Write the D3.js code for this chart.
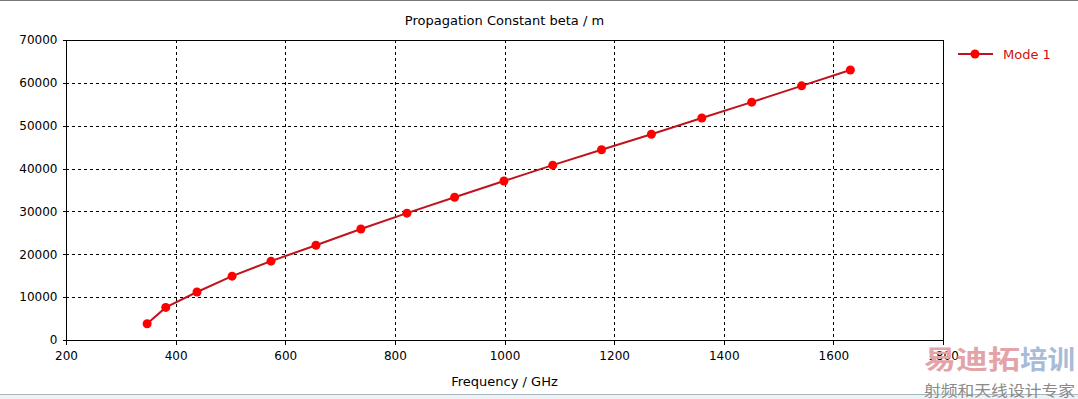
<!DOCTYPE html>
<html>
<head>
<meta charset="utf-8">
<script src="https://cdn.jsdelivr.net/npm/d3@7"></script>
<style>
  body { margin: 0; background: #fff; }
  text { font-family: "DejaVu Sans", sans-serif; font-size: 13px; }
</style>
</head>
<body>
<svg id="chart" width="1078" height="399"></svg>
<script>
// frequency in GHz, beta in 1/m
const freq = [348, 382, 439, 503, 574, 656, 738, 822, 909, 999, 1088, 1177, 1268, 1360, 1451, 1542, 1631];
const beta = [3800, 7600, 11200, 14900, 18400, 22100, 25900, 29600, 33300, 37100, 40800, 44400, 48000, 51800, 55500, 59300, 63000];
const xTicks = [200, 400, 600, 800, 1000, 1200, 1400, 1600, 1800];
const yTicks = [0, 10000, 20000, 30000, 40000, 50000, 60000, 70000];
const seriesName = "Mode 1";

const svg = d3.select("#chart");
const margin = { left: 66, right: 135, top: 40, bottom: 59 };
const W = 1078, H = 399;

const x = d3.scaleLinear().domain([200, 1800]).range([margin.left, W - margin.right]);
const y = d3.scaleLinear().domain([0, 70000]).range([H - margin.bottom, margin.top]);

// window frame: grey line on top, light strip at the bottom
svg.append("line")
    .attr("x1", 0).attr("x2", W).attr("y1", 0.5).attr("y2", 0.5)
    .attr("stroke", "#777").attr("stroke-width", 1);
svg.append("rect")
    .attr("x", -1).attr("y", 394.5).attr("width", W + 2).attr("height", 6)
    .attr("fill", "#eef2f5").attr("stroke", "#a8b8c2");

// grid
const grid = svg.append("g").attr("class", "grid")
    .attr("stroke", "#000").attr("stroke-dasharray", "3,3").attr("shape-rendering", "crispEdges");
grid.selectAll(".vx")
    .data(xTicks.slice(1, -1))
    .enter().append("line")
    .attr("x1", d => Math.round(x(d)) + 0.5).attr("x2", d => Math.round(x(d)) + 0.5)
    .attr("y1", y(70000)).attr("y2", y(0));
grid.selectAll(".hy")
    .data(yTicks.slice(1, -1))
    .enter().append("line")
    .attr("y1", d => Math.round(y(d)) + 0.5).attr("y2", d => Math.round(y(d)) + 0.5)
    .attr("x1", x(200)).attr("x2", x(1800));

// axes
const xAxis = svg.append("g")
    .attr("transform", `translate(0,${Math.round(y(0)) + 0.5})`)
    .call(d3.axisBottom(x).tickValues(xTicks).tickSize(4).tickPadding(7).tickFormat(d3.format("d")));
const yAxis = svg.append("g")
    .attr("transform", `translate(${Math.round(x(200)) + 0.5},0)`)
    .call(d3.axisLeft(y).tickValues(yTicks).tickSize(4).tickPadding(5).tickFormat(d3.format("d")));
[xAxis, yAxis].forEach(a => {
    a.select(".domain").remove();
    a.selectAll("line").attr("stroke", "#000").attr("shape-rendering", "crispEdges");
    a.selectAll("text").attr("fill", "#000").style("font-size", "12px")
        .style("font-family", "'DejaVu Sans', sans-serif");
});

// plot frame
svg.append("rect")
    .attr("x", Math.round(x(200)) + 0.5).attr("y", Math.round(y(70000)) + 0.5)
    .attr("width", Math.round(x(1800)) - Math.round(x(200)))
    .attr("height", Math.round(y(0)) - Math.round(y(70000)))
    .attr("fill", "none").attr("stroke", "#000").attr("shape-rendering", "crispEdges");

// titles
svg.append("text")
    .attr("x", (x(200) + x(1800)) / 2).attr("y", 25)
    .attr("text-anchor", "middle").text("Propagation Constant beta / m");
svg.append("text")
    .attr("x", (x(200) + x(1800)) / 2).attr("y", 386)
    .attr("text-anchor", "middle").text("Frequency / GHz");

// series
const pts = freq.map((f, i) => [f, beta[i]]);
svg.append("path")
    .datum(pts)
    .attr("fill", "none").attr("stroke", "#c0141c").attr("stroke-width", 2)
    .attr("d", d3.line().x(d => x(d[0])).y(d => y(d[1])));
svg.append("g").selectAll("circle")
    .data(pts)
    .enter().append("circle")
    .attr("cx", d => x(d[0])).attr("cy", d => y(d[1]))
    .attr("r", 4.5).attr("fill", "#f00");

// legend
const lg = svg.append("g").attr("transform", "translate(958,54)");
lg.append("line").attr("x1", 0).attr("x2", 35).attr("stroke", "#c0141c").attr("stroke-width", 2);
lg.append("circle").attr("cx", 17).attr("r", 4.5).attr("fill", "#f00");
lg.append("text").attr("x", 45).attr("y", 5).attr("fill", "#d01010").text(seriesName);

// watermark
const cjk = "'Noto Sans CJK SC'";
svg.append("text").attr("x", 924).attr("y", 369)
    .attr("textLength", 96).attr("lengthAdjust", "spacingAndGlyphs")
    .style("font-size", "26px").style("font-weight", "bold").style("font-family", cjk)
    .attr("fill", "#e4a3a8").text("易迪拓");
svg.append("text").attr("x", 1020).attr("y", 369)
    .attr("textLength", 55).attr("lengthAdjust", "spacingAndGlyphs")
    .style("font-size", "26px").style("font-weight", "bold").style("font-family", cjk)
    .attr("fill", "#a8bcd8").text("培训");
svg.append("text").attr("x", 924).attr("y", 396)
    .attr("textLength", 151).attr("lengthAdjust", "spacingAndGlyphs")
    .style("font-size", "15px").style("font-family", cjk)
    .attr("fill", "#8a8a8a").text("射频和天线设计专家");
</script>
</body>
</html>
